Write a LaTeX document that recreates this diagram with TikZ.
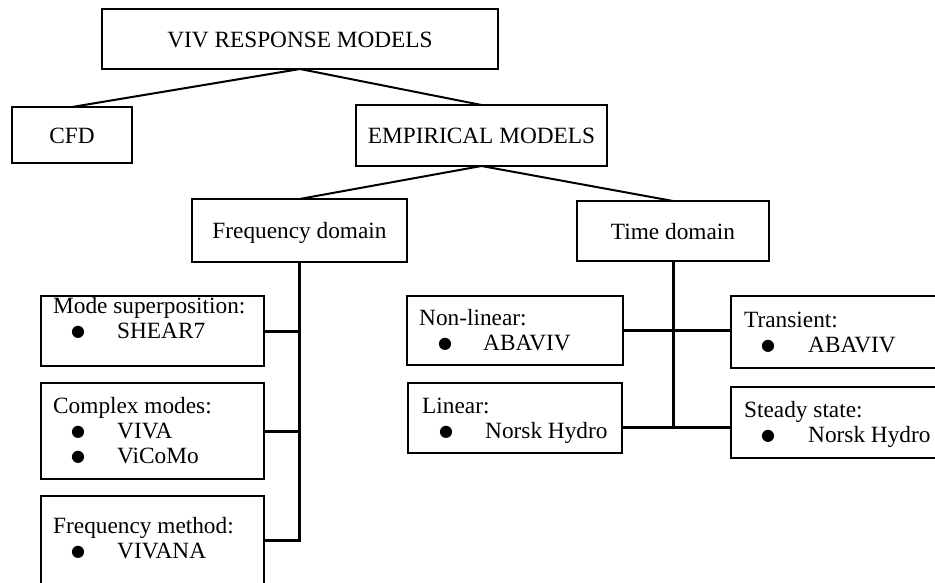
\documentclass[tikz,border=0pt]{standalone}
\usepackage{fontspec}
\setmainfont{Liberation Serif}
\newfontfamily\dejavu{DejaVu Sans}
\newcommand{\bulletdot}{{\dejavu\fontsize{16}{17}\selectfont ●}}
\begin{document}
\begin{tikzpicture}[x=1pt,y=-1pt,
  box/.style={draw, line width=1.8pt, inner sep=0pt, outer sep=0pt, anchor=north west},
  lbl/.style={inner sep=0pt, anchor=base west, font=\fontsize{23.3}{25}\selectfont},
  ttl/.style={inner sep=0pt, anchor=base, font=\fontsize{23.3}{25}\selectfont},
  bul/.style={inner sep=0pt, anchor=base, yshift=1.5pt},
  tree/.style={line width=2pt},
  comb/.style={line width=3pt}]
\useasboundingbox (0,0) rectangle (935,583);
\clip (0,0) rectangle (935,583);

% boxes
\node[box, minimum width=396pt, minimum height=60pt] (top) at (102,9) {};
\node[box, minimum width=120pt, minimum height=56pt] (cfd) at (12,107) {};
\node[box, minimum width=251pt, minimum height=61pt] (emp) at (356,105) {};
\node[box, minimum width=215pt, minimum height=63pt] (freq) at (192,199) {};
\node[box, minimum width=192pt, minimum height=60pt] (time) at (577,201) {};
\node[box, minimum width=223pt, minimum height=70pt] (mode) at (41,296) {};
\node[box, minimum width=223pt, minimum height=96pt] (complex) at (41,383) {};
\node[box, minimum width=223pt, minimum height=88pt] (method) at (41,496) {};
\node[box, minimum width=216pt, minimum height=69pt] (nonlin) at (407,296) {};
\node[box, minimum width=214pt, minimum height=70pt] (linear) at (408,383) {};
\node[box, minimum width=220pt, minimum height=72pt] (trans) at (731,296) {};
\node[box, minimum width=220pt, minimum height=71pt] (steady) at (731,387) {};

% titles
\node[ttl] (ttop) at (300,48) {VIV RESPONSE MODELS};
\node[ttl] (tcfd) at (72,144) {CFD};
\node[ttl] (temp) at (481.5,144) {EMPIRICAL MODELS};
\node[ttl] (tfreq) at (299.5,238) {Frequency domain};
\node[ttl] (ttime) at (673,239) {Time domain};

% list boxes
\node[lbl] (tmode) at (53,313) {Mode superposition:};
\node[bul] (bmode) at (78,338) {\bulletdot};
\node[lbl] (imode) at (117,338) {SHEAR7};

\node[lbl] (tcomplex) at (53,413) {Complex modes:};
\node[bul] (bcomplexa) at (78,438) {\bulletdot};
\node[lbl] (icomplexa) at (117,438) {VIVA};
\node[bul] (bcomplexb) at (78,463) {\bulletdot};
\node[lbl] (icomplexb) at (117,463) {ViCoMo};

\node[lbl] (tmethod) at (53,533) {Frequency method:};
\node[bul] (bmethod) at (78,558) {\bulletdot};
\node[lbl] (imethod) at (117,558) {VIVANA};

\node[lbl] (tnonlin) at (419,325) {Non-linear:};
\node[bul] (bnonlin) at (445,350) {\bulletdot};
\node[lbl] (inonlin) at (483,350) {ABAVIV};

\node[lbl] (tlinear) at (422,413) {Linear:};
\node[bul] (blinear) at (446,438) {\bulletdot};
\node[lbl] (ilinear) at (485,438) {Norsk Hydro};

\node[lbl] (ttrans) at (744,327) {Transient:};
\node[bul] (btrans) at (768,352) {\bulletdot};
\node[lbl] (itrans) at (808,352) {ABAVIV};

\node[lbl] (tsteady) at (744,417) {Steady state:};
\node[bul] (bsteady) at (768,442) {\bulletdot};
\node[lbl] (isteady) at (808,442) {Norsk Hydro};

% tree connectors
\draw[tree] (top.south) -- (cfd.north);
\draw[tree] (top.south) -- (emp.north);
\draw[tree] (emp.south) -- (freq.north);
\draw[tree] (emp.south) -- (time.north);

% frequency comb
\draw[comb] (freq.south) -- (freq.south |- method.east) -- (method.east);
\draw[comb] (mode.east) -- (freq.south |- mode.east);
\draw[comb] (complex.east) -- (freq.south |- complex.east);

% time comb
\coordinate (tj) at (672,427);
\draw[comb] (time.south) -- (time.south |- tj);
\draw[comb] (linear.east |- tj) -- (steady.west |- tj);
\draw[comb] (nonlin.east) -- (trans.west |- nonlin.east);
\end{tikzpicture}
\end{document}
